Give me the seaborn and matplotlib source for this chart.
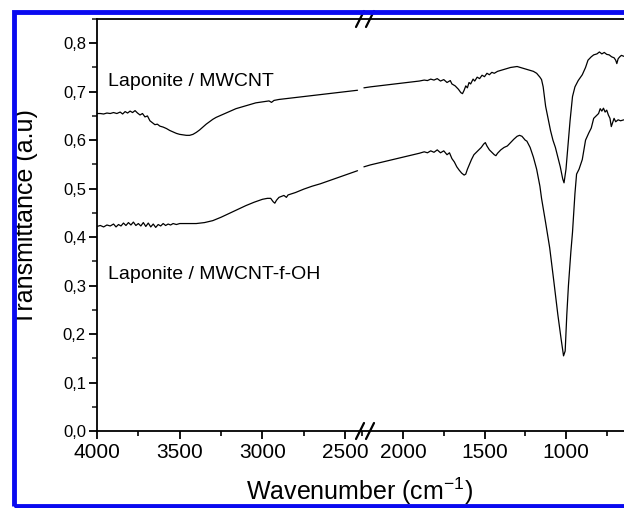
import matplotlib
matplotlib.use("Agg")
import matplotlib.pyplot as plt
import seaborn as sns
import pandas as pd
from matplotlib.lines import Line2D
from matplotlib.patches import Rectangle
from matplotlib.ticker import MultipleLocator

# ---------------- data ----------------
# Laponite / MWCNT, high-wavenumber segment (4000 -> break)
wn_upper_left = [4000, 3980, 3960, 3940, 3920, 3900, 3880, 3860, 3845, 3830, 3815, 3800, 3785,
                 3770, 3755, 3740, 3725, 3710, 3695, 3680, 3665, 3650, 3635, 3620, 3600, 3580,
                 3560, 3540, 3520, 3500, 3480, 3460, 3440, 3420, 3400, 3380, 3360, 3340, 3320,
                 3300, 3280, 3260, 3240, 3220, 3200, 3180, 3160, 3140, 3120, 3100, 3080, 3060,
                 3040, 3020, 3000, 2980, 2960, 2945, 2930, 2900, 2850, 2800, 2750, 2700, 2650,
                 2600, 2550, 2500, 2450, 2425]
tr_upper_left = [0.655, 0.655, 0.654, 0.656, 0.655, 0.657, 0.655, 0.658, 0.654, 0.659, 0.656, 0.660, 0.657,
                 0.661, 0.656, 0.652, 0.655, 0.648, 0.650, 0.640, 0.636, 0.632, 0.633, 0.629, 0.627, 0.624,
                 0.620, 0.617, 0.614, 0.612, 0.611, 0.610, 0.610, 0.612, 0.616, 0.621, 0.627, 0.633, 0.638,
                 0.643, 0.647, 0.650, 0.653, 0.656, 0.659, 0.662, 0.665, 0.667, 0.669, 0.671, 0.673, 0.675,
                 0.677, 0.678, 0.679, 0.680, 0.681, 0.678, 0.682, 0.684, 0.686, 0.688, 0.690, 0.692, 0.694,
                 0.696, 0.698, 0.700, 0.702, 0.703]

# Laponite / MWCNT, low-wavenumber segment (break -> end)
wn_upper_right = [2240, 2200, 2150, 2100, 2050, 2000, 1950, 1900, 1870, 1850, 1830, 1810, 1790, 1770,
                  1750, 1730, 1710, 1700, 1680, 1660, 1645, 1635, 1625, 1615, 1605, 1595, 1585, 1570,
                  1560, 1545, 1530, 1515, 1500, 1485, 1470, 1455, 1440, 1420, 1400, 1380, 1360, 1340,
                  1320, 1300, 1280, 1260, 1240, 1220, 1200, 1180, 1160, 1150, 1140, 1125, 1110, 1095,
                  1080, 1065, 1050, 1035, 1020, 1012, 1000, 990, 975, 960, 945, 925, 900, 880, 865,
                  845, 830, 810, 795, 780, 765, 750, 735, 720, 705, 695, 688, 680, 670, 660, 645]
tr_upper_right = [0.708, 0.710, 0.712, 0.714, 0.716, 0.718, 0.720, 0.722, 0.724, 0.723, 0.726, 0.724, 0.727, 0.722,
                  0.725, 0.719, 0.723, 0.716, 0.712, 0.705, 0.698, 0.696, 0.703, 0.712, 0.708, 0.719, 0.716, 0.726,
                  0.722, 0.730, 0.727, 0.734, 0.731, 0.738, 0.735, 0.740, 0.738, 0.742, 0.744, 0.746, 0.748, 0.750,
                  0.751, 0.752, 0.750, 0.748, 0.746, 0.744, 0.742, 0.738, 0.730, 0.725, 0.710, 0.670, 0.645, 0.620,
                  0.600, 0.585, 0.565, 0.545, 0.520, 0.512, 0.540, 0.580, 0.640, 0.690, 0.710, 0.723, 0.735, 0.750, 0.765,
                  0.772, 0.776, 0.778, 0.782, 0.778, 0.781, 0.777, 0.776, 0.772, 0.770, 0.765, 0.758, 0.768, 0.772, 0.775, 0.773]

# Laponite / MWCNT-f-OH, high-wavenumber segment
wn_lower_left = [4000, 3980, 3960, 3940, 3920, 3900, 3885, 3870, 3855, 3840, 3825, 3810, 3795, 3780,
                 3765, 3750, 3735, 3720, 3705, 3690, 3675, 3660, 3645, 3630, 3615, 3600, 3585, 3570,
                 3555, 3540, 3520, 3500, 3450, 3400, 3350, 3300, 3250, 3200, 3150, 3100, 3050, 3000,
                 2970, 2950, 2935, 2925, 2915, 2900, 2870, 2855, 2845, 2800, 2750, 2700, 2650, 2600,
                 2550, 2500, 2450, 2425]
tr_lower_left = [0.422, 0.424, 0.421, 0.425, 0.423, 0.427, 0.421, 0.426, 0.423, 0.429, 0.424, 0.430, 0.425, 0.431,
                 0.424, 0.428, 0.423, 0.430, 0.422, 0.429, 0.421, 0.427, 0.420, 0.426, 0.423, 0.428, 0.424, 0.427,
                 0.425, 0.428, 0.426, 0.428, 0.428, 0.428, 0.430, 0.434, 0.441, 0.449, 0.457, 0.465, 0.472, 0.478,
                 0.480, 0.480, 0.473, 0.470, 0.476, 0.482, 0.486, 0.482, 0.487, 0.492, 0.499, 0.505, 0.510, 0.516,
                 0.522, 0.528, 0.534, 0.537]

# Laponite / MWCNT-f-OH, low-wavenumber segment
wn_lower_right = [2240, 2200, 2150, 2100, 2050, 2000, 1950, 1900, 1870, 1850, 1830, 1810, 1790, 1770,
                  1750, 1730, 1715, 1700, 1685, 1670, 1655, 1640, 1625, 1615, 1605, 1595, 1580, 1565,
                  1550, 1535, 1520, 1505, 1495, 1485, 1470, 1455, 1440, 1430, 1420, 1400, 1380, 1360,
                  1340, 1320, 1300, 1285, 1270, 1250, 1240, 1220, 1200, 1180, 1160, 1150, 1125, 1100,
                  1075, 1050, 1030, 1015, 1005, 995, 985, 970, 960, 945, 935, 920, 900, 880, 860, 845,
                  830, 815, 800, 790, 780, 770, 760, 750, 740, 730, 722, 715, 705, 695, 680, 665, 645]
tr_lower_right = [0.545, 0.549, 0.553, 0.557, 0.561, 0.565, 0.569, 0.573, 0.576, 0.574, 0.578, 0.575, 0.580, 0.574,
                  0.578, 0.570, 0.574, 0.562, 0.555, 0.545, 0.538, 0.532, 0.528, 0.530, 0.540, 0.548, 0.560, 0.570,
                  0.575, 0.580, 0.585, 0.592, 0.595, 0.588, 0.580, 0.575, 0.570, 0.568, 0.573, 0.580, 0.585, 0.588,
                  0.595, 0.602, 0.608, 0.610, 0.608, 0.600, 0.598, 0.585, 0.565, 0.540, 0.505, 0.480, 0.430, 0.378,
                  0.310, 0.240, 0.190, 0.155, 0.165, 0.240, 0.300, 0.370, 0.410, 0.490, 0.530, 0.540, 0.560, 0.600, 0.615, 0.625,
                  0.645, 0.650, 0.655, 0.665, 0.660, 0.666, 0.658, 0.662, 0.652, 0.645, 0.628, 0.635, 0.645, 0.638, 0.642, 0.640, 0.642]

left_xticks = [4000, 3500, 3000, 2500]
right_xticks = [2000, 1500, 1000]
y_ticks = [0.0, 0.1, 0.2, 0.3, 0.4, 0.5, 0.6, 0.7, 0.8]
y_ticklabels = ["0,0", "0,1", "0,2", "0,3", "0,4", "0,5", "0,6", "0,7", "0,8"]
label_upper = "Laponite / MWCNT"
label_lower = "Laponite / MWCNT-f-OH"

# ---------------- figure ----------------
sns.set_theme(style="white")
plt.rcParams["font.family"] = ["Liberation Sans", "DejaVu Sans"]
plt.rcParams["mathtext.fontset"] = "custom"
plt.rcParams["mathtext.rm"] = "Liberation Sans"
plt.rcParams["mathtext.it"] = "Liberation Sans:italic"
plt.rcParams["mathtext.bf"] = "Liberation Sans:bold"

W, H = 624, 508
fig = plt.figure(figsize=(W / 100, H / 100), dpi=100)

def fx(px):
    return px / W

def fy(py):
    return 1 - py / H

x0, xb, x1 = 97, 360, 624
ytop, ybot = 19, 431
axL = fig.add_axes([fx(x0), fy(ybot), fx(xb - x0), fy(ytop) - fy(ybot)])
axR = fig.add_axes([fx(xb), fy(ybot), fx(x1 - xb), fy(ytop) - fy(ybot)])

def frame(wn, tr):
    return pd.DataFrame({"wn": wn, "tr": tr})

lw = 0.9
sns.lineplot(data=frame(wn_upper_left, tr_upper_left), x="wn", y="tr", ax=axL, color="black", lw=lw, estimator=None)
sns.lineplot(data=frame(wn_lower_left, tr_lower_left), x="wn", y="tr", ax=axL, color="black", lw=lw, estimator=None)
sns.lineplot(data=frame(wn_upper_right, tr_upper_right), x="wn", y="tr", ax=axR, color="black", lw=lw, estimator=None)
sns.lineplot(data=frame(wn_lower_right, tr_lower_right), x="wn", y="tr", ax=axR, color="black", lw=lw, estimator=None)

axL.set_xlim(4000, 2410)
axR.set_xlim(2264, 644)
for ax in (axL, axR):
    ax.set_ylim(0, 0.85)
    ax.set_xlabel("")
    ax.set_ylabel("")
    ax.set_facecolor("white")
    for s in ax.spines.values():
        s.set_color("black")
        s.set_linewidth(1.3)
    ax.spines["right"].set_visible(False)
    ax.xaxis.set_minor_locator(MultipleLocator(250))
    ax.tick_params(axis="x", which="major", direction="out", length=6, width=1.3,
                   labelsize=15, pad=3, colors="black", bottom=True, top=False)
    ax.tick_params(axis="x", which="minor", direction="out", length=3.5, width=1.2,
                   bottom=True, top=False, colors="black")

axL.set_xticks(left_xticks)
axL.set_xticklabels([str(v) for v in left_xticks])
axR.set_xticks(right_xticks)
axR.set_xticklabels([str(v) for v in right_xticks])

axL.set_yticks(y_ticks)
axL.set_yticklabels(y_ticklabels)
axL.yaxis.set_minor_locator(MultipleLocator(0.05))
axL.tick_params(axis="y", which="major", direction="out", length=6, width=1.3,
                labelsize=12, pad=2, left=True, colors="black")
axL.tick_params(axis="y", which="minor", direction="out", length=3.5, width=1.2, left=True)

axR.spines["left"].set_visible(False)
axR.tick_params(axis="y", which="both", left=False, labelleft=False)

axL.text(3935, 0.722, label_upper, fontsize=14, va="center", ha="left", color="black")
axL.text(3935, 0.322, label_lower, fontsize=14, va="center", ha="left", color="black")

# axis titles
fig.text(fx(360), fy(491), "Wavenumber (cm$^{-1}$)", fontsize=18, ha="center", va="center", color="black")
fig.text(fx(26), fy(217), "Transmittance (a.u)", fontsize=18, ha="center", va="center",
         rotation=90, color="black")

# axis-break marks
for yy in (ytop, ybot):
    for xs in (356, 366):
        fig.add_artist(Line2D([fx(xs), fx(xs + 8)], [fy(yy + 8), fy(yy - 8)],
                              transform=fig.transFigure, color="black", lw=1.6))

# blue frame
fig.add_artist(Rectangle((fx(14), fy(506)), fx(640 - 14), fy(12) - fy(506),
                         transform=fig.transFigure, fill=False, edgecolor="#0A0AF0",
                         lw=3.5, zorder=20))

fig.savefig("out.png", dpi=100, facecolor="white")
